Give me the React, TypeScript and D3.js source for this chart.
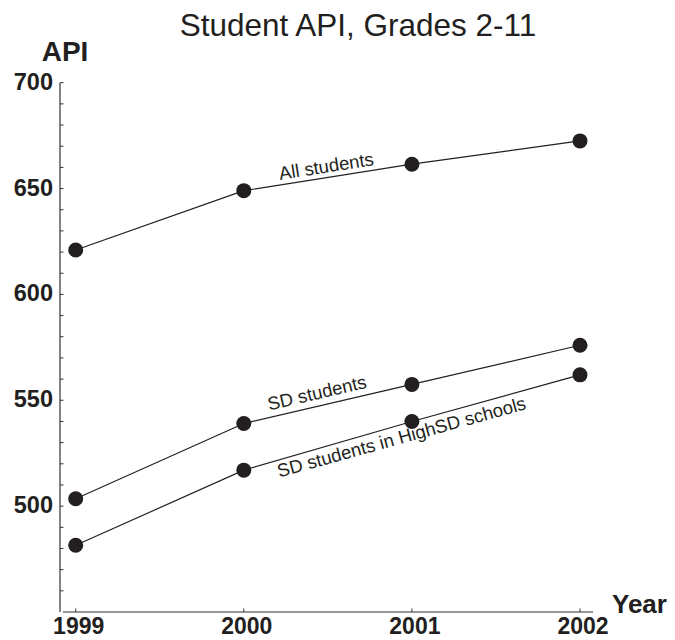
import React from "react";
import * as d3 from "d3";

const years = [1999, 2000, 2001, 2002];
const allStudents = [621, 649, 661.5, 672.5];
const sdStudents = [503.5, 539, 557.5, 576];
const sdHighSD = [481.5, 517, 540, 562];
const yMajorTicks = [500, 550, 600, 650, 700];
const yMinorTicks = d3.range(460, 701, 10);

const title = "Student API, Grades 2-11";
const yTitle = "API";
const xTitle = "Year";
const seriesLabels = ["All students", "SD students", "SD students in HighSD schools"];

const W = 675;
const H = 640;
const FONT = "'Liberation Sans', Arial, Helvetica, sans-serif";
const INK = "#231f20";

export default function App() {
  const x = d3.scaleLinear().domain([1999, 2002]).range([75.7, 580]);
  const y = d3.scaleLinear().domain([450, 700]).range([612, 82.7]);
  const line = d3
    .line<[number, number]>()
    .x((d) => x(d[0]))
    .y((d) => y(d[1]));

  const series = [allStudents, sdStudents, sdHighSD];

  const labelAt = (vals: number[], i: number, cx: number, off: number) => {
    const x0 = x(years[i]);
    const y0 = y(vals[i]);
    const x1 = x(years[i + 1]);
    const y1 = y(vals[i + 1]);
    const ang = Math.atan2(y1 - y0, x1 - x0);
    const t = (cx - x0) / (x1 - x0);
    const px = x0 + t * (x1 - x0);
    const py = y0 + t * (y1 - y0);
    const nx = -Math.sin(ang);
    const ny = Math.cos(ang);
    return {
      tx: px + nx * off,
      ty: py + ny * off,
      deg: (ang * 180) / Math.PI,
    };
  };

  const l0 = labelAt(allStudents, 1, 328, -5);
  const l1 = labelAt(sdStudents, 1, 320, -7);
  const l2 = labelAt(sdHighSD, 1, 398, 18.5);
  const l2deg = -15.5;

  return (
    <svg
      width={W}
      height={H}
      style={{ position: "absolute", left: 0, top: 0, background: "#fff" }}
      fontFamily={FONT}
    >
      <rect x={0} y={0} width={W} height={H} fill="#fff" />
      <text x={358} y={36} textAnchor="middle" fontSize={31.5} fill={INK}>
        {title}
      </text>
      <text x={65} y={61} textAnchor="middle" fontSize={28} fontWeight="bold" fill={INK}>
        {yTitle}
      </text>
      <text x={612} y={613} fontSize={26} fontWeight="bold" fill={INK}>
        {xTitle}
      </text>

      {/* y axis */}
      <line x1={60} x2={60} y1={y(700)} y2={y(450)} stroke="#333" strokeWidth={1.2} />
      {yMinorTicks.map((t) => (
        <line key={t} x1={60} x2={63.5} y1={y(t)} y2={y(t)} stroke="#333" strokeWidth={1} />
      ))}
      {yMajorTicks.map((t) => (
        <text
          key={t}
          x={53}
          y={y(t) + 7}
          textAnchor="end"
          fontSize={23.5}
          fontWeight="bold"
          fill={INK}
        >
          {t}
        </text>
      ))}

      {/* x axis */}
      <line x1={63} x2={593} y1={y(450)} y2={y(450)} stroke="#333" strokeWidth={1.2} />
      {years.map((yr) => (
        <g key={yr}>
          <line x1={x(yr)} x2={x(yr)} y1={y(450)} y2={y(450) - 3.5} stroke="#333" strokeWidth={1} />
          <text
            x={x(yr) + 3}
            y={y(450) + 21.5}
            textAnchor="middle"
            fontSize={23}
            fontWeight="bold"
            fill={INK}
          >
            {yr}
          </text>
        </g>
      ))}

      {/* series */}
      {series.map((vals, si) => {
        const pts = years.map((yr, i) => [yr, vals[i]] as [number, number]);
        return (
          <g key={si}>
            <path d={line(pts) || ""} fill="none" stroke={INK} strokeWidth={1.2} />
            {pts.map((p, i) => (
              <circle key={i} cx={x(p[0])} cy={y(p[1])} r={7.5} fill={INK} />
            ))}
          </g>
        );
      })}

      {/* line labels */}
      <text
        transform={`translate(${l0.tx},${l0.ty}) rotate(${l0.deg})`}
        textAnchor="middle"
        fontSize={18.5}
        fill={INK}
      >
        {seriesLabels[0]}
      </text>
      <text
        transform={`translate(${l1.tx},${l1.ty}) rotate(${l1.deg})`}
        textAnchor="middle"
        fontSize={18.5}
        fill={INK}
      >
        {seriesLabels[1]}
      </text>
      <text
        transform={`translate(${l2.tx},${l2.ty}) rotate(${l2deg})`}
        textAnchor="middle"
        fontSize={18.5}
        fill={INK}
      >
        {seriesLabels[2]}
      </text>
    </svg>
  );
}
